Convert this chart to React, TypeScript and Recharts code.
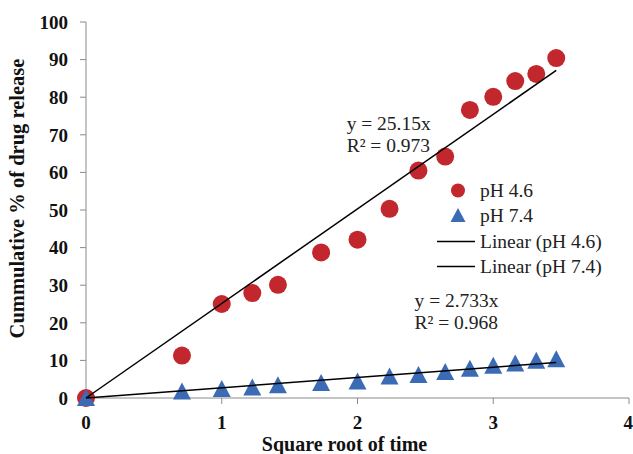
import React from 'react';
import { ScatterChart, Scatter, XAxis, YAxis, Legend, ReferenceDot } from 'recharts';

const sqrtTime = [0, 0.707, 1, 1.225, 1.414, 1.732, 2, 2.236, 2.449, 2.646, 2.828, 3, 3.162, 3.317, 3.464];
const ph46 = [0, 11.3, 25.0, 27.9, 30.1, 38.7, 42.1, 50.3, 60.5, 64.2, 76.6, 80.1, 84.3, 86.2, 90.4];
const ph74 = [0, 1.7, 2.4, 2.8, 3.4, 4.0, 4.4, 5.7, 6.1, 6.9, 7.8, 8.6, 9.2, 9.9, 10.3];
const slopes = { ph46: 25.15, ph74: 2.733 };
const xTicks = [0, 1, 2, 3, 4];
const yTicks = [0, 10, 20, 30, 40, 50, 60, 70, 80, 90, 100];

const data46 = sqrtTime.map((x, i) => ({ x, y: ph46[i] }));
const data74 = sqrtTime.map((x, i) => ({ x, y: ph74[i] }));
const xEnd = sqrtTime[sqrtTime.length - 1];
const trend46 = [{ x: 0, y: 0 }, { x: xEnd, y: slopes.ph46 * xEnd }];
const trend74 = [{ x: 0, y: 0 }, { x: xEnd, y: slopes.ph74 * xEnd }];

const RED = '#C1272D';
const BLUE = '#3B6BB5';
const AXIS = '#8A8A8A';
const FONT = '"Liberation Serif", "Times New Roman", serif';

const Circle = (p: any) => <circle cx={p.cx} cy={p.cy} r={9} fill={RED} />;
const Tri = (p: any) => (
  <polygon
    points={`${p.cx},${p.cy - 9} ${p.cx + 9},${p.cy + 8} ${p.cx - 9},${p.cy + 8}`}
    fill={BLUE}
  />
);
const Nothing = () => <g />;

const LegendContent = () => (
  <div style={{ fontFamily: FONT, fontSize: 19.5, color: '#222', lineHeight: '25.3px' }}>
    <div style={{ display: 'flex', alignItems: 'center' }}>
      <svg width={43} height={25}><circle cx={21} cy={12.5} r={7} fill={RED} /></svg>
      <span>pH 4.6</span>
    </div>
    <div style={{ display: 'flex', alignItems: 'center' }}>
      <svg width={43} height={25}><polygon points="21,5 28.5,19 13.5,19" fill={BLUE} /></svg>
      <span>pH 7.4</span>
    </div>
    <div style={{ display: 'flex', alignItems: 'center' }}>
      <svg width={43} height={25}><line x1={0} y1={12.5} x2={38} y2={12.5} stroke="#000" strokeWidth={1.5} /></svg>
      <span>Linear (pH 4.6)</span>
    </div>
    <div style={{ display: 'flex', alignItems: 'center' }}>
      <svg width={43} height={25}><line x1={0} y1={12.5} x2={38} y2={12.5} stroke="#000" strokeWidth={1.5} /></svg>
      <span>Linear (pH 7.4)</span>
    </div>
  </div>
);

const Annot = (lines: string[]) => (props: any) => {
  const vb = props.viewBox || {};
  const x = vb.x ?? props.x;
  const y = vb.y ?? props.y;
  return (
    <text x={x} y={y} fontFamily={FONT} fontSize={19.5} fill="#222">
      {lines.map((l, i) => (
        <tspan key={i} x={x} dy={i === 0 ? 0 : 22}>{l}</tspan>
      ))}
    </text>
  );
};

export default function App() {
  return (
    <div style={{ position: 'absolute', left: 0, top: 0, width: 633, height: 454, background: '#fff' }}>
      <ScatterChart width={633} height={454} margin={{ top: 22, right: 4, left: 26, bottom: 26 }}>
        <XAxis
          type="number"
          dataKey="x"
          domain={[0, 4]}
          ticks={xTicks}
          height={30}
          tickSize={6}
          tickMargin={12}
          stroke={AXIS}
          tick={{ fill: '#111', fontFamily: FONT, fontSize: 19, fontWeight: 'bold' }}
          label={(p: any) => (
            <text x={344.5} y={451} textAnchor="middle" fontFamily={FONT} fontSize={20} fontWeight="bold" fill="#111">
              Square root of time
            </text>
          )}
        />
        <YAxis
          type="number"
          dataKey="y"
          domain={[0, 100]}
          ticks={yTicks}
          width={60}
          tickSize={6}
          tickMargin={12}
          stroke={AXIS}
          tick={{ fill: '#111', fontFamily: FONT, fontSize: 19, fontWeight: 'bold' }}
          label={(p: any) => (
            <text
              x={0}
              y={0}
              transform="translate(24,198.5) rotate(-90)"
              textAnchor="middle"
              fontFamily={FONT}
              fontSize={20.5}
              fontWeight="bold"
              fill="#111"
            >
              Cummulative % of drug release
            </text>
          )}
        />
        <Legend
          layout="vertical"
          verticalAlign="middle"
          align="center"
          wrapperStyle={{ left: 437, top: 178, width: 200 }}
          content={LegendContent}
        />
        <Scatter name="pH 4.6" data={data46} shape={Circle} isAnimationActive={false} />
        <Scatter name="pH 7.4" data={data74} shape={Tri} isAnimationActive={false} />
        <Scatter
          name="Linear (pH 4.6)"
          data={trend46}
          shape={Nothing}
          line={{ stroke: '#000', strokeWidth: 1.5 }}
          isAnimationActive={false}
        />
        <Scatter
          name="Linear (pH 7.4)"
          data={trend74}
          shape={Nothing}
          line={{ stroke: '#000', strokeWidth: 1.5 }}
          isAnimationActive={false}
        />
        <ReferenceDot x={1.92} y={71.3} r={0} fill="none" stroke="none" label={Annot(['y = 25.15x', 'R² = 0.973'])} />
        <ReferenceDot x={2.42} y={24.2} r={0} fill="none" stroke="none" label={Annot(['y = 2.733x', 'R² = 0.968'])} />
      </ScatterChart>
    </div>
  );
}
